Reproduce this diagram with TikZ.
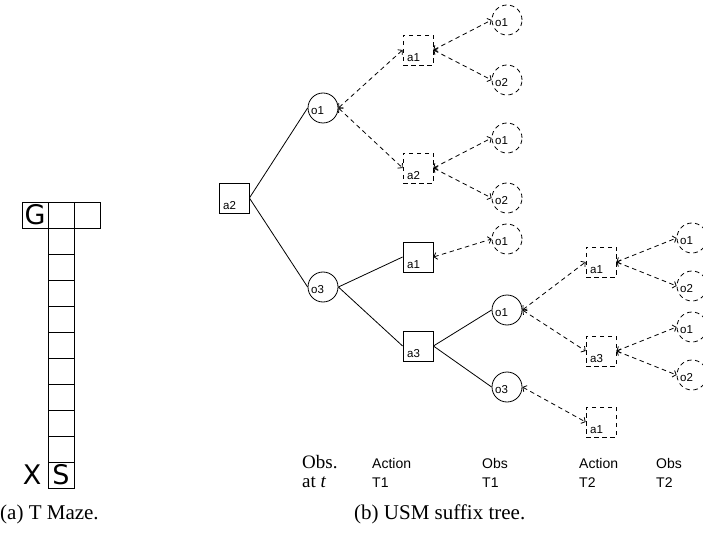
\documentclass[tikz,border=0pt]{standalone}
\usepackage{fontspec}
\setmainfont{Liberation Serif}
\setsansfont{Liberation Sans}
\newfontfamily\mazefont{DejaVu Sans}
\usetikzlibrary{arrows.meta}
\newcommand{\lblfont}{\sffamily\fontsize{11.5}{12}\selectfont}
\newcommand{\rowfont}{\sffamily\fontsize{14}{19}\selectfont}
\newcommand{\hdfont}{\rmfamily\fontsize{19}{19}\selectfont}
\newcommand{\capfont}{\rmfamily\fontsize{21}{21}\selectfont}
\tikzstyle{act} = [rectangle, draw=black, line width=0.8pt, minimum size=30pt, inner sep=0pt]
\tikzstyle{obs} = [circle, draw=black, line width=0.8pt, minimum size=30pt, inner sep=0pt]
\tikzstyle{fringe} = [dash pattern=on 4.5pt off 3.5pt]
\tikzstyle{branch} = [line width=0.8pt]
\tikzstyle{dbranch} = [line width=0.8pt, dash pattern=on 4.5pt off 3.5pt, {Straight Barb[length=3pt,width=7pt]}-{Straight Barb[length=3pt,width=7pt]}]
\tikzstyle{cell} = [draw, line width=0.9pt]
\tikzset{
  alab/.style={label={[xshift=-4.5pt, yshift=-8pt, inner sep=0pt, font=\lblfont]center:#1}},
  olab/.style={label={[xshift=-5.5pt, yshift=-3pt, inner sep=0pt, font=\lblfont]center:#1}}
}

\begin{document}
\begin{tikzpicture}[x=1pt, y=-1pt]
\useasboundingbox (0,0) rectangle (703,534);
\clip (0,0) rectangle (703,534);

% T maze
\draw [cell] (22,202) rectangle (48,228);
\draw [cell] (48,202) rectangle (74,228);
\draw [cell] (74,202) rectangle (100,228);
\foreach \r in {0,...,9}
  \draw [cell] (48,228+26*\r) rectangle (74,254+26*\r);
\node [font=\mazefont\fontsize{27}{27}\selectfont, inner sep=0pt] at (35,215) {G};
\node [font=\mazefont\fontsize{27}{27}\selectfont, inner sep=0pt] at (61,475) {S};
\node [font=\mazefont\fontsize{27}{27}\selectfont, inner sep=0pt] at (32,475) {X};

% suffix tree, depth 0 and 1
\node (root) [act, alab=a2] at (234,198) {};
\node (o1) [obs, olab=o1] at (323,108) {};
\node (o3) [obs, olab=o3] at (323,287) {};

% depth 2
\node (o1a1) [act, fringe, alab=a1] at (418,50) {};
\node (o1a2) [act, fringe, alab=a2] at (418,168) {};
\node (o3a1) [act, alab=a1] at (418,257) {};
\node (o3a3) [act, alab=a3] at (418,346) {};

% depth 3
\node (o1a1o1) [obs, fringe, olab=o1] at (507,20) {};
\node (o1a1o2) [obs, fringe, olab=o2] at (507,80) {};
\node (o1a2o1) [obs, fringe, olab=o1] at (507,138) {};
\node (o1a2o2) [obs, fringe, olab=o2] at (507,198) {};
\node (o3a1o1) [obs, fringe, olab=o1] at (507,239) {};
\node (a3o1) [obs, olab=o1] at (507,310) {};
\node (a3o3) [obs, olab=o3] at (507,387) {};

% depth 4 and 5
\node (a3o1a1) [act, fringe, alab=a1] at (601,262) {};
\node (a3o1a3) [act, fringe, alab=a3] at (601,351) {};
\node (a3o3a1) [act, fringe, alab=a1] at (601,422) {};
\node (l1) [obs, fringe, olab=o1] at (692,238) {};
\node (l2) [obs, fringe, olab=o2] at (692,286) {};
\node (l3) [obs, fringe, olab=o1] at (692,327) {};
\node (l4) [obs, fringe, olab=o2] at (692,375) {};

% Branches
\foreach \p/\c in {root/o1, root/o3, o3/o3a1, o3/o3a3, o3a3/a3o1, o3a3/a3o3}
  \draw [branch] (\p.east) -- (\c.west);
\foreach \p/\c in {o1/o1a1, o1/o1a2, o1a1/o1a1o1, o1a1/o1a1o2, o1a2/o1a2o1, o1a2/o1a2o2,
                   o3a1/o3a1o1, a3o1/a3o1a1, a3o1/a3o1a3, a3o3/a3o3a1,
                   a3o1a1/l1, a3o1a1/l2, a3o1a3/l3, a3o1a3/l4}
  \draw [dbranch] (\p.east) -- (\c.west);

% Row labels
\node (hdobs) [font=\hdfont, align=left, anchor=base west, inner sep=0pt] at (302,487) {Obs.\\at \textit{t}};
\node (hdact1) [font=\rowfont, align=left, anchor=base west, inner sep=0pt] at (372,487) {Action\\T1};
\node (hdobs1) [font=\rowfont, align=left, anchor=base west, inner sep=0pt] at (482,487) {Obs\\T1};
\node (hdact2) [font=\rowfont, align=left, anchor=base west, inner sep=0pt] at (579,487) {Action\\T2};
\node (hdobs2) [font=\rowfont, align=left, anchor=base west, inner sep=0pt] at (656,487) {Obs\\T2};

% Captions
\node (capa) [font=\capfont, anchor=base west, inner sep=0pt] at (0,519) {(a) T Maze.};
\node (capb) [font=\capfont, anchor=base west, inner sep=0pt] at (354,519) {(b) USM suffix tree.};

\end{tikzpicture}
\end{document}
